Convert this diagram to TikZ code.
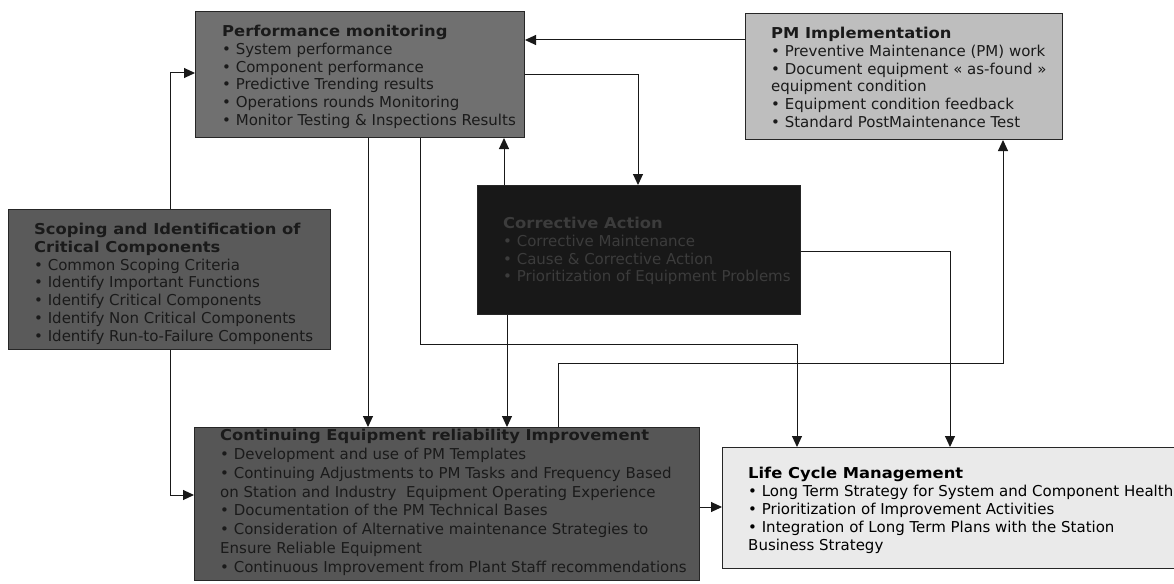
\documentclass[tikz,border=0pt]{standalone}
\usepackage{fontspec}
\usepackage{graphicx}
\setmainfont{DejaVu Sans}
\usetikzlibrary{arrows.meta,calc}
\definecolor{perfc}{HTML}{707070}
\definecolor{pmc}{HTML}{BEBEBE}
\definecolor{scopc}{HTML}{5A5A5A}
\definecolor{cac}{HTML}{181818}
\definecolor{caText}{HTML}{3C3C3C}
\definecolor{ceric}{HTML}{565656}
\definecolor{lcc}{HTML}{EAEAEA}
\definecolor{darktxt}{HTML}{1A1A1A}
\newcommand\boxtitle[1]{\scalebox{1.09}[1]{\textbf{#1}}}
\begin{document}
\begin{tikzpicture}[x=1pt,y=-1pt,
  box/.style={draw=black!85, line width=1pt, rectangle, inner sep=0pt, anchor=north west},
  txt/.style={anchor=north west, inner sep=0pt, align=left, font=\fontsize{15}{17.8}\selectfont, text=darktxt},
  arr/.style={draw=black!90, line width=1pt, -{Triangle[length=11pt,width=10pt]}},
  ln/.style={draw=black!90, line width=1pt}]
\useasboundingbox (0,0) rectangle (1174,583);
\fill[white] (0,0) rectangle (1174,583);

% boxes
\node[box, fill=perfc, minimum width=329pt, minimum height=126pt] (perf) at (195,11) {};
\node[box, fill=pmc, minimum width=317pt, minimum height=126pt] (pmi) at (745,13) {};
\node[box, fill=scopc, minimum width=322pt, minimum height=140pt] (scop) at (8,209) {};
\node[box, fill=cac, minimum width=323pt, minimum height=129pt] (ca) at (477,185) {};
\node[box, fill=ceric, minimum width=505pt, minimum height=153pt] (ceri) at (194,427) {};
\node[box, fill=lcc, minimum width=460pt, minimum height=121pt] (lc) at (722,447) {};

% texts
\node[txt] (perft) at ($(perf.north west)+(27,14)$) {\boxtitle{Performance monitoring}\\
• System performance\\
• Component performance\\
• Predictive Trending results\\
• Operations rounds Monitoring\\
• Monitor Testing \& Inspections Results};

\node[txt] (pmit) at ($(pmi.north west)+(26,14)$) {\boxtitle{PM Implementation}\\
• Preventive Maintenance (PM) work\\
• Document equipment « as-found »\\
equipment condition\\
• Equipment condition feedback\\
• Standard PostMaintenance Test};

\node[txt] (scopt) at ($(scop.north west)+(26,14)$) {\boxtitle{Scoping and Identification of}\\
\boxtitle{Critical Components}\\
• Common Scoping Criteria\\
• Identify Important Functions\\
• Identify Critical Components\\
• Identify Non Critical Components\\
• Identify Run-to-Failure Components};

\node[txt, text=caText] (cat) at ($(ca.north west)+(26,32)$) {\boxtitle{Corrective Action}\\
• Corrective Maintenance\\
• Cause \& Corrective Action\\
• Prioritization of Equipment Problems};

\node[txt, font=\fontsize{15}{18.8}\selectfont] (cerit) at ($(ceri.north west)+(26,2)$) {\boxtitle{Continuing Equipment reliability Improvement}\\
• Development and use of PM Templates\\
• Continuing Adjustments to PM Tasks and Frequency Based\\
on Station and Industry\ \ Equipment Operating Experience\\
• Documentation of the PM Technical Bases\\
• Consideration of Alternative maintenance Strategies to\\
Ensure Reliable Equipment\\
• Continuous Improvement from Plant Staff recommendations};

\node[txt, text=black, font=\fontsize{15}{18}\selectfont] (lct) at ($(lc.north west)+(26,20)$) {\boxtitle{Life Cycle Management}\\
• Long Term Strategy for System and Component Health\\
• Prioritization of Improvement Activities\\
• Integration of Long Term Plans with the Station\\
Business Strategy};

% helper coordinates
\coordinate (h40) at (0,40);
\coordinate (h73) at (0,73);
\coordinate (h75) at (0,75);
\coordinate (h251) at (0,251);
\coordinate (h344) at (0,344);
\coordinate (h363) at (0,363);
\coordinate (h495) at (0,495);
\coordinate (h507) at (0,507);
\coordinate (v170) at (170,0);
\coordinate (v368) at (368,0);
\coordinate (v420) at (420,0);
\coordinate (v504) at (504,0);
\coordinate (v507) at (507,0);
\coordinate (v558) at (558,0);
\coordinate (v638) at (638,0);
\coordinate (v797) at (797,0);
\coordinate (v950) at (950,0);
\coordinate (v1003) at (1003,0);

% connectors
\draw[arr] (pmi.west |- h40) -- (perf.east |- h40);
\draw[arr] (perf.east |- h75) -| (v638 |- ca.north);
\draw[arr] (v170 |- scop.north) |- (perf.west |- h73);
\draw[arr] (v170 |- scop.south) |- (ceri.west |- h495);
\draw[arr] (v368 |- perf.south) -- (v368 |- ceri.north);
\draw[arr] (v420 |- perf.south) |- (v797 |- h344) -- (v797 |- lc.north);
\draw[arr] (v504 |- ca.north) -- (v504 |- perf.south);
\draw[arr] (v507 |- ca.south) -- (v507 |- ceri.north);
\draw[arr] (ca.east |- h251) -| (v950 |- lc.north);
\draw[arr] (v558 |- ceri.north) |- (v1003 |- h363) -- (v1003 |- pmi.south);
\draw[arr] (ceri.east |- h507) -- (lc.west |- h507);
\end{tikzpicture}
\end{document}
